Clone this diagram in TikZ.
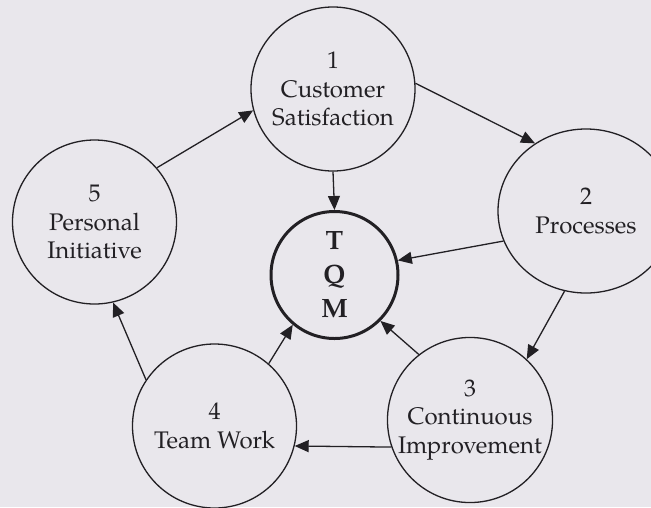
\documentclass[tikz,border=0pt]{standalone}
\usepackage{fontspec}
\setmainfont{TeX Gyre Pagella}
\usetikzlibrary{arrows.meta,shapes.geometric}
\definecolor{paper}{RGB}{233,231,236}
\definecolor{ink}{RGB}{34,32,36}
\begin{document}
\begin{tikzpicture}[x=1pt,y=-1pt,
  stage/.style={circle,draw=ink,line width=1.3pt,minimum size=164pt,inner sep=0pt,
    align=center,text=ink,font=\fontsize{24}{28.8}\selectfont},
  hub/.style={circle,draw=ink,line width=3pt,minimum size=127pt,inner sep=0pt,
    align=center,text=ink,font=\fontsize{26.5}{34}\selectfont\bfseries},
  flow/.style={draw=ink,line width=1.3pt,-{Triangle[length=14pt,width=12pt]}}]
% page background
\fill[paper] (0,0) rectangle (651,507);
\useasboundingbox (0,0) rectangle (651,507);

% the five elements around the centre
\node[stage] (c1) at (333,89) {1\\Customer\\Satisfaction};
\node[stage,ellipse,minimum width=176pt,minimum height=164pt] (c2) at (586,211) {2\\Processes};
\node[stage] (c3) at (470,420) {3\\Continuous\\Improvement};
\node[stage] (c4) at (214.5,426) {4\\Team Work};
\node[stage] (c5) at (94.5,222) {5\\Personal\\Initiative};

% centre
\node[hub] (tqm) at (334.5,275) {T\\Q\\M};

% cycle
\draw[flow] (c1.4) -- (c2.127);
\draw[flow] (c2.255) -- (c3.47);
\draw[flow] (c3.199) -- (c4.346);
\draw[flow] (c4.146) -- (c5.283);
\draw[flow] (c5.41) -- (c1.195);

% contributions to TQM
\draw[flow] (c1.270) -- (tqm.90);
\draw[flow] (c2.200) -- (tqm.13);
\draw[flow] (c3.128) -- (tqm.315);
\draw[flow] (c4.49) -- (tqm.230);
\end{tikzpicture}
\end{document}
